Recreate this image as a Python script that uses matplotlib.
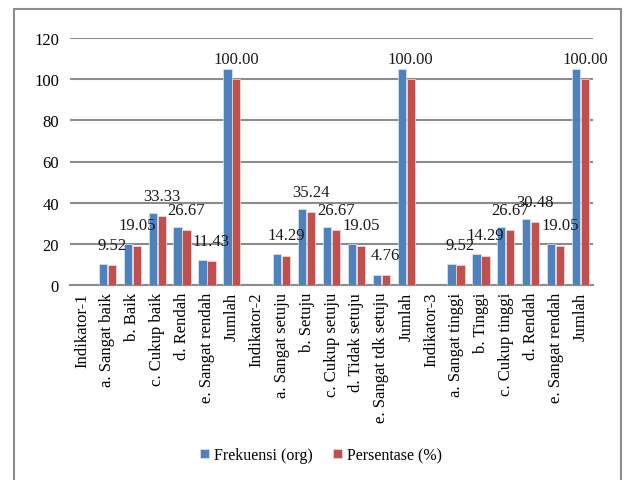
import numpy as np
import matplotlib
matplotlib.use('Agg')
import matplotlib.pyplot as plt
from matplotlib.patches import Rectangle

categories = ['Indikator-1', 'a. Sangat baik', 'b. Baik', 'c. Cukup baik', 'd. Rendah',
              'e. Sangat rendah', 'Jumlah',
              'Indikator-2', 'a. Sangat setuju', 'b. Setuju', 'c. Cukup setuju',
              'd. Tidak setuju', 'e. Sangat tdk setuju', 'Jumlah',
              'Indikator-3', 'a. Sangat tinggi', 'b. Tinggi', 'c. Cukup tinggi', 'd. Rendah',
              'e. Sangat rendah', 'Jumlah']
frekuensi = [np.nan, 10, 20, 35, 28, 12, 105,
             np.nan, 15, 37, 28, 20, 5, 105,
             np.nan, 10, 15, 28, 32, 20, 105]
persentase = [np.nan, 9.52, 19.05, 33.33, 26.67, 11.43, 100.00,
              np.nan, 14.29, 35.24, 26.67, 19.05, 4.76, 100.00,
              np.nan, 9.52, 14.29, 26.67, 30.48, 19.05, 100.00]

plt.rcParams['font.family'] = 'Liberation Serif'
fs = 12

fig = plt.figure(figsize=(6.24, 4.81), dpi=100)
ax = fig.add_axes([70 / 624, 1 - 286 / 481, 523 / 624, 247 / 481])

x = np.arange(len(categories))
w = 0.33
ax.bar(x - 0.18, frekuensi, w, color='#4F81BD', edgecolor='#dce6f2', linewidth=0.5,
       label='Frekuensi (org)', zorder=3)
ax.bar(x + 0.18, persentase, w, color='#C0504D', edgecolor='#f2dcdb', linewidth=0.5,
       label='Persentase (%)', zorder=3)

for xi, v in zip(x, persentase):
    if np.isnan(v):
        continue
    ax.annotate(f'{v:.2f}', (xi + 0.18, v), xytext=(0, 9), textcoords='offset points',
                ha='center', va='bottom', fontsize=fs, color='#1a1a1a', zorder=4)

ax.set_xlim(-0.5, len(categories) - 0.5)
ax.set_ylim(0, 120)
ax.set_yticks(range(0, 121, 20))
ax.yaxis.grid(True, color='#8c8c8c', linewidth=1.5, zorder=0)
ax.set_axisbelow(True)
for s in ['top', 'right', 'left']:
    ax.spines[s].set_visible(False)
ax.spines['bottom'].set_color('#8c8c8c')
ax.spines['bottom'].set_linewidth(1.5)
ax.tick_params(axis='y', length=0, labelsize=fs, pad=8)
ax.tick_params(axis='x', length=0, labelsize=fs, pad=5)
ax.set_xticks(x)
ax.set_xticklabels(categories, rotation=90, va='top', ha='center')

ax.legend(loc='center', bbox_to_anchor=(321 / 624, 1 - 456 / 481),
          bbox_transform=fig.transFigure, ncol=2, frameon=False, fontsize=11.5,
          handlelength=0.55, handleheight=0.55, handletextpad=0.3, columnspacing=1.3)

fig.patches.append(Rectangle((14 / 624, -0.05), 607 / 624, 1.05 - 10 / 481,
                             transform=fig.transFigure, fill=False,
                             edgecolor='#8c8c8c', linewidth=1.5))

fig.savefig('out.png', dpi=100)
